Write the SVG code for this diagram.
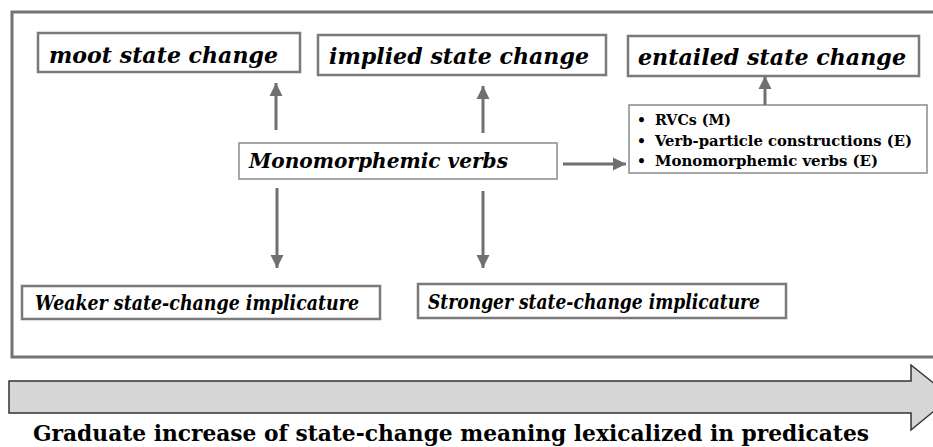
<svg xmlns="http://www.w3.org/2000/svg" width="933" height="447" viewBox="0 0 933 447">
<defs>
<marker id="ah" viewBox="0 0 10 10" refX="10" refY="5" markerWidth="13" markerHeight="15" markerUnits="userSpaceOnUse" orient="auto">
<path d="M0,0 L10,5 L0,10 Z" fill="#707070"/>
</marker>
</defs>
<style>
.frame{fill:#fff;stroke:#737373;stroke-width:3}
.box{fill:#fff;stroke:#7a7a7a;stroke-width:2.5}
.thin{fill:#fff;stroke:#8a8a8a;stroke-width:1.5}
.t{font-family:"DejaVu Serif","Liberation Serif",serif;font-weight:bold;font-style:italic;fill:#000}
.b{font-family:"DejaVu Serif","Liberation Serif",serif;font-weight:bold;fill:#000}
.conn line{stroke:#707070;stroke-width:3;marker-end:url(#ah)}
</style>
<rect width="933" height="447" fill="#fff"/>
<rect class="frame" x="12" y="12" width="925" height="345"/>

<g id="moot">
<rect class="box" x="38" y="33" width="262" height="39"/>
<text class="t" x="49" y="63" font-size="23" textLength="229" lengthAdjust="spacingAndGlyphs">moot state change</text>
</g>
<g id="implied">
<rect class="box" x="318" y="35" width="288" height="40"/>
<text class="t" x="329" y="64" font-size="23" textLength="260" lengthAdjust="spacingAndGlyphs">implied state change</text>
</g>
<g id="entailed">
<rect class="box" x="628" y="36" width="291" height="40"/>
<text class="t" x="638" y="64.5" font-size="23" textLength="268" lengthAdjust="spacingAndGlyphs">entailed state change</text>
</g>
<g id="mono">
<rect class="thin" x="239" y="143" width="318" height="36"/>
<text class="t" x="249" y="168" font-size="21" textLength="259" lengthAdjust="spacingAndGlyphs">Monomorphemic verbs</text>
</g>
<g id="list">
<rect class="thin" x="629" y="105" width="298" height="68"/>
<text class="b" x="637" y="125" font-size="14">•</text>
<text class="b" x="655" y="125" font-size="15" textLength="76" lengthAdjust="spacingAndGlyphs">RVCs (M)</text>
<text class="b" x="637" y="145.5" font-size="14">•</text>
<text class="b" x="655" y="145.5" font-size="15" textLength="257" lengthAdjust="spacingAndGlyphs">Verb-particle constructions (E)</text>
<text class="b" x="637" y="166" font-size="14">•</text>
<text class="b" x="655" y="166" font-size="15" textLength="223" lengthAdjust="spacingAndGlyphs">Monomorphemic verbs (E)</text>
</g>
<g id="weaker">
<rect class="box" x="22" y="286" width="358" height="33"/>
<text class="t" x="35" y="310" font-size="20" textLength="324" lengthAdjust="spacingAndGlyphs">Weaker state-change implicature</text>
</g>
<g id="stronger">
<rect class="box" x="418" y="284" width="368" height="34"/>
<text class="t" x="428" y="309" font-size="20" textLength="332" lengthAdjust="spacingAndGlyphs">Stronger state-change implicature</text>
</g>

<g class="conn">
<line x1="276" y1="130" x2="276" y2="83"/>
<line x1="483" y1="133" x2="483" y2="86"/>
<line x1="765" y1="105" x2="765" y2="76"/>
<line x1="563" y1="164" x2="626" y2="164"/>
<line x1="277" y1="188" x2="277" y2="268"/>
<line x1="483" y1="191" x2="483" y2="268"/>
</g>

<g id="scale">
<path d="M9,381 L911,381 L911,365 L951,397 L911,430 L911,413 L9,413 Z" fill="#d6d6d6" stroke="#333" stroke-width="1.5"/>
<text class="b" x="33" y="441" font-size="23" textLength="836" lengthAdjust="spacingAndGlyphs">Graduate increase of state-change meaning lexicalized in predicates</text>
</g>
</svg>
